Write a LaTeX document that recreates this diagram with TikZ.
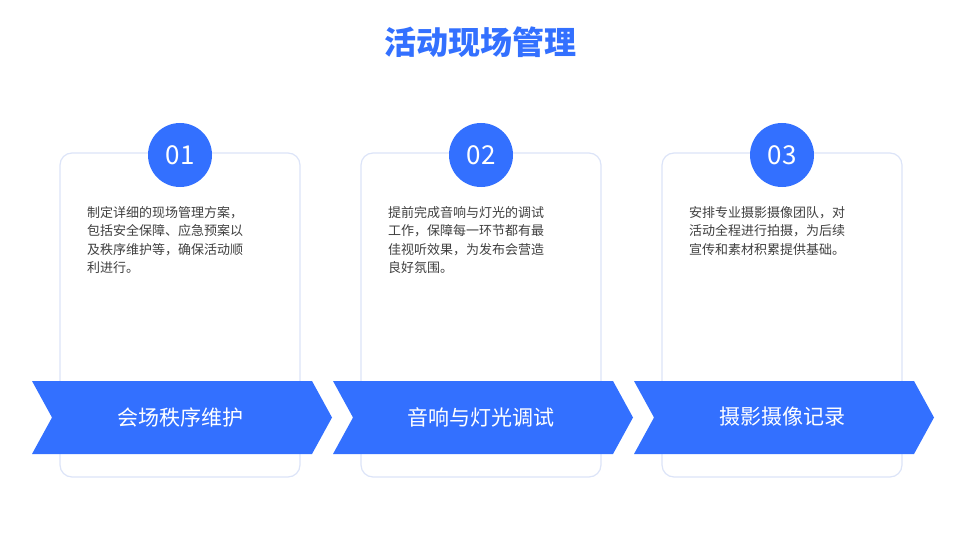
\documentclass[tikz,border=0pt]{standalone}
\usepackage{fontspec}
\setmainfont{Noto Sans CJK SC}
\definecolor{mblue}{HTML}{3370FF}
\definecolor{cborder}{HTML}{DCE4F8}
\definecolor{tgray}{HTML}{404040}
\begin{document}
\begin{tikzpicture}[x=1pt,y=-1pt,
  card/.style={draw=cborder,line width=1.2pt,rounded corners=12pt,fill=white},
  num/.style={circle,fill=mblue,minimum size=64pt,inner sep=0pt,text=white,font=\fontsize{26}{28}\selectfont},
  body/.style={anchor=north west,align=left,text=tgray,font=\fontsize{13}{18.5}\selectfont,inner sep=0pt},
  chev/.style={fill=mblue},
  clab/.style={text=white,font=\fontsize{21}{24}\selectfont}]
\useasboundingbox (0,0) rectangle (960,540);
\node[text=mblue,font=\fontsize{32}{36}\selectfont\bfseries] (title) at (480,42) {活动现场管理};
\foreach \i/\n/\t/\l in {0/01/{制定详细的现场管理方案，\\包括安全保障、应急预案以\\及秩序维护等，确保活动顺\\利进行。}/会场秩序维护,
  1/02/{提前完成音响与灯光的调试\\工作，保障每一环节都有最\\佳视听效果，为发布会营造\\良好氛围。}/音响与灯光调试,
  2/03/{安排专业摄影摄像团队，对\\活动全程进行拍摄，为后续\\宣传和素材积累提供基础。}/摄影摄像记录}{
  \begin{scope}[xshift=\i*301]
  \draw[card] (60,153) rectangle (300,477);
  \node[num] (n\i) at (180,155) {\n};
  \node[body] (b\i) at (87,206) {\t};
  \fill[chev] (32,381) -- (312,381) -- (332,417.5) -- (312,454) -- (32,454) -- (52,417.5) -- cycle;
  \node[clab] (c\i) at (180,417) {\l};
  \end{scope}
}
\end{tikzpicture}
\end{document}
